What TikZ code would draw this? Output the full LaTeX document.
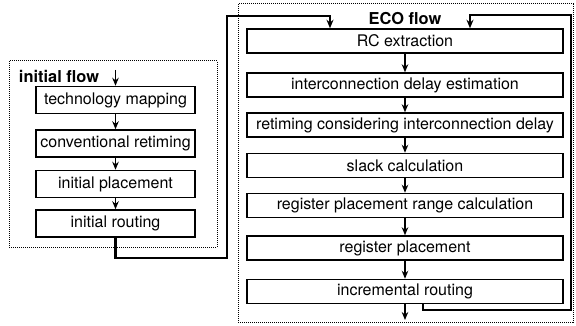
\documentclass[tikz,border=0pt]{standalone}
\usepackage{fontspec}
\setmainfont{TeX Gyre Heros}
\usetikzlibrary{arrows.meta}
\begin{document}
\begin{tikzpicture}[x=1pt,y=-1pt,
  txt/.style={font=\fontsize{16}{19}\selectfont},
  stepbox/.style={draw, line width=1.5pt, inner sep=0pt, txt},
  leftbox/.style={stepbox, minimum width=159pt, minimum height=27pt},
  ecobox/.style={stepbox, minimum width=316pt, minimum height=24pt},
  framebox/.style={draw, line width=1pt, dash pattern=on 1pt off 1pt, inner sep=0pt},
  title/.style={font=\fontsize{16.4}{19}\selectfont\bfseries},
  flow/.style={line width=1.9pt, -{Stealth[length=8pt,width=6.5pt]}},
  loopline/.style={line width=2.4pt, -{Stealth[length=8.5pt,width=7pt]}}
]
\useasboundingbox (0,0) rectangle (576,326);

% dotted frames of the two flows
\node[framebox, minimum width=208pt, minimum height=186pt] (initframe) at (113,154) {};
\node[framebox, minimum width=335pt, minimum height=318pt] (ecoframe) at (405.5,163) {};

\node[title] (inittitle) at (59,76) {initial flow};
\node[title] (ecotitle) at (405,19) {ECO flow};

% initial flow
\node[leftbox] (tm) at (115.5,100) {technology mapping};
\node[leftbox] (cr) at (115.5,143.5) {conventional retiming};
\node[leftbox] (ip) at (115.5,184) {initial placement};
\node[leftbox] (ir) at (115.5,223.5) {initial routing};

% ECO flow
\node[ecobox] (rc)   at (405,41)    {RC extraction};
\node[ecobox] (ide)  at (405,85)    {interconnection delay estimation};
\node[ecobox] (ret)  at (405,125)   {retiming considering interconnection delay};
\node[ecobox] (sl)   at (405,165.5) {slack calculation};
\node[ecobox] (rprc) at (405,205.5) {register placement range calculation};
\node[ecobox] (rp)   at (405,248)   {register placement};
\node[ecobox] (inc)  at (405,291.5) {incremental routing};

% arrows inside the flows
\coordinate (initin) at (115.5,70);
\draw[flow] (initin) -- (tm.north);
\draw[flow] (tm) -- (cr);
\draw[flow] (cr) -- (ip);
\draw[flow] (ip) -- (ir);

\draw[flow] (rc) -- (ide);
\draw[flow] (ide) -- (ret);
\draw[flow] (ret) -- (sl);
\draw[flow] (sl) -- (rprc);
\draw[flow] (rprc) -- (rp);
\draw[flow] (rp) -- (inc);
\coordinate (ecoout) at (405,320);
\draw[flow] (inc.south) -- (ecoout);

% hand-over from the initial flow to the ECO flow
\coordinate (loopL) at (227,258);
\coordinate (entryL) at (330,16);
\draw[loopline] (ir.south) |- (loopL) |- (entryL) -- (entryL |- rc.north);

% ECO feedback loop
\coordinate (fbstart) at (423,0);
\coordinate (loopR) at (571,310);
\coordinate (entryR) at (470,15);
\draw[loopline] (inc.south -| fbstart) |- (loopR) |- (entryR) -- (entryR |- rc.north);
\end{tikzpicture}
\end{document}
